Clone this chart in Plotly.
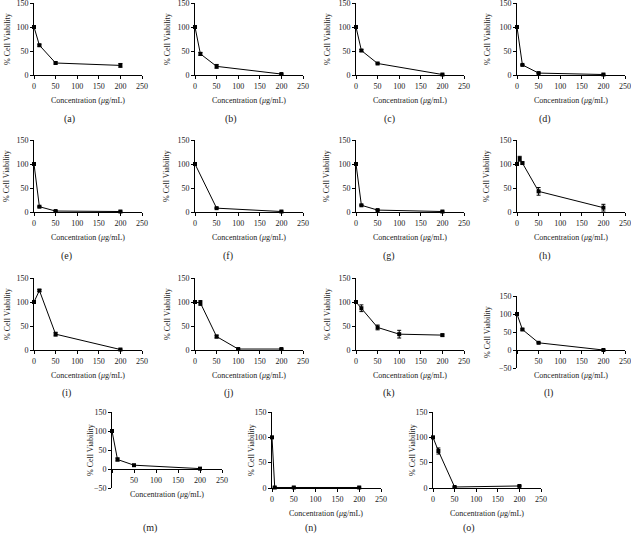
import plotly.graph_objects as go

W, H = 631, 539

# ---- data (concentration in ug/mL, % cell viability, error) ----
conc_a = [0, 12.5, 50, 200];       via_a = [100, 62, 25, 20];      err_a = [0, 2, 2, 4]
conc_b = [0, 12.5, 50, 200];       via_b = [100, 44, 18, 2];       err_b = [0, 3, 4, 1]
conc_c = [0, 12.5, 50, 200];       via_c = [100, 51, 24, 1];       err_c = [0, 2, 1, 1]
conc_d = [0, 12.5, 50, 200];       via_d = [100, 21, 4, 1];        err_d = [0, 1, 1, 1]
conc_e = [0, 12.5, 50, 200];       via_e = [100, 11, 2, 1];        err_e = [0, 1, 1, 1]
conc_f = [0, 50, 200];             via_f = [100, 8, 1];            err_f = [0, 1, 1]
conc_g = [0, 12.5, 50, 200];       via_g = [100, 14, 4, 1];        err_g = [0, 1, 1, 1]
conc_h = [0, 6.25, 12.5, 50, 200]; via_h = [100, 111, 102, 43, 9]; err_h = [0, 5, 2, 8, 7]
conc_i = [0, 12.5, 50, 200];       via_i = [100, 124, 33, 1];      err_i = [0, 2, 4, 1]
conc_j = [0, 12.5, 50, 100, 200];  via_j = [100, 98, 28, 2, 2];    err_j = [0, 5, 3, 1, 1]
conc_k = [0, 12.5, 50, 100, 200];  via_k = [100, 87, 47, 33, 31];  err_k = [0, 7, 5, 8, 2]
conc_l = [0, 12.5, 50, 200];       via_l = [100, 57, 20, 0];       err_l = [0, 2, 1, 1]
conc_m = [0, 12.5, 50, 200];       via_m = [100, 25, 10, 1];       err_m = [0, 4, 1, 1]
conc_n = [0, 6.25, 50, 200];       via_n = [100, 1, 1, 1];         err_n = [0, 1, 1, 1]
conc_o = [0, 12.5, 50, 200];       via_o = [100, 73, 2, 4];        err_o = [0, 6, 1, 1]

panel_labels = ["(a)", "(b)", "(c)", "(d)", "(e)", "(f)", "(g)", "(h)",
                "(i)", "(j)", "(k)", "(l)", "(m)", "(n)", "(o)"]
x_ticks = [0, 50, 100, 150, 200, 250]
y_ticks_pos = [0, 50, 100, 150]
y_ticks_neg = [-50, 0, 50, 100, 150]

series = [
    (conc_a, via_a, err_a), (conc_b, via_b, err_b), (conc_c, via_c, err_c), (conc_d, via_d, err_d),
    (conc_e, via_e, err_e), (conc_f, via_f, err_f), (conc_g, via_g, err_g), (conc_h, via_h, err_h),
    (conc_i, via_i, err_i), (conc_j, via_j, err_j), (conc_k, via_k, err_k), (conc_l, via_l, err_l),
    (conc_m, via_m, err_m), (conc_n, via_n, err_n), (conc_o, via_o, err_o),
]

# ---- layout boxes in pixels: x0, x1, y_top(px of range max), y_bottom(px of range min), neg range, ytitle offset
boxes = [
    (34, 142, 3, 75, False, 27), (195, 303, 3, 75, False, 28), (356, 464, 3, 75, False, 29), (517, 625, 3, 75, False, 30),
    (34, 142, 140, 212, False, 27), (195, 303, 140, 212, False, 28), (356, 464, 140, 212, False, 29), (517, 625, 140, 212, False, 30),
    (34, 142, 278, 350, False, 27), (195, 303, 278, 350, False, 28), (356, 464, 278, 350, False, 29), (517, 625, 296, 368, True, 30),
    (112, 222, 412, 488, True, 22), (272, 381, 412, 488, False, 21), (433, 541, 412, 488, False, 21),
]
label_pos = [
    (69, 119), (231, 119), (389, 119), (545, 119),
    (66, 256), (228, 256), (389, 256), (545, 256),
    (66, 393), (228, 393), (389, 393), (548, 393),
    (150, 528), (311, 528), (469, 528),
]

FONT = "Liberation Serif"
fig = go.Figure()
annotations = []

for i, ((xs, ys, es), (x0, x1, yt, yb, neg, toff), lab, (lx, ly)) in enumerate(
        zip(series, boxes, panel_labels, label_pos)):
    n = i + 1
    xa = "x" if n == 1 else f"x{n}"
    ya = "y" if n == 1 else f"y{n}"
    fig.add_trace(go.Scatter(
        x=xs, y=ys, xaxis=xa, yaxis=ya, mode="lines+markers",
        line=dict(color="black", width=1),
        marker=dict(symbol="square", size=4, color="black"),
        error_y=dict(type="data", array=es, visible=True, color="black", thickness=1, width=2),
        showlegend=False, cliponaxis=False,
    ))
    ymin, ymax = (-50, 150) if neg else (0, 150)
    ydom = [1 - yb / H, 1 - yt / H]
    xdom = [x0 / W, x1 / W]
    # pixel of y = 0
    y0px = yb - (0 - ymin) / (ymax - ymin) * (yb - yt)
    xaxis = dict(
        domain=xdom, range=[0, 250], tickvals=x_ticks,
        ticktext=[("" if (neg and v == 0) else str(v)) for v in x_ticks],
        showline=True, linecolor="black", linewidth=1, ticks="outside", ticklen=3,
        tickcolor="black", showgrid=False, zeroline=False, automargin=False,
        ticklabeloverflow="allow",
        tickfont=dict(family=FONT, size=8, color="#222"), fixedrange=True,
    )
    if neg:
        xaxis.update(anchor="free", position=1 - y0px / H)
    else:
        xaxis.update(anchor=ya)
    yaxis = dict(
        domain=ydom, range=[ymin, ymax], tickvals=(y_ticks_neg if neg else y_ticks_pos),
        showline=True, linecolor="black", linewidth=1, ticks="outside", ticklen=3,
        tickcolor="black", showgrid=False, zeroline=False, anchor=xa, automargin=False,
        ticklabeloverflow="allow",
        tickfont=dict(family=FONT, size=8, color="#222"), fixedrange=True,
    )
    key = "" if n == 1 else str(n)
    fig.update_layout(**{f"xaxis{key}": xaxis, f"yaxis{key}": yaxis})

    # axis titles
    annotations.append(dict(
        text="Concentration (<i>μ</i>g/mL)", x=(x0 + x1) / 2 / W, y=1 - (y0px + 25) / H,
        xref="paper", yref="paper", showarrow=False, xanchor="center", yanchor="middle",
        font=dict(family=FONT, size=8, color="#222")))
    annotations.append(dict(
        text="% Cell Viability", x=(x0 - toff) / W, y=1 - (yt + yb) / 2 / H,
        xref="paper", yref="paper", showarrow=False, xanchor="center", yanchor="middle",
        textangle=-90, font=dict(family=FONT, size=8, color="#222")))
    annotations.append(dict(
        text=lab, x=lx / W, y=1 - ly / H, xref="paper", yref="paper", showarrow=False,
        xanchor="center", yanchor="middle", font=dict(family=FONT, size=10, color="#222")))

fig.update_layout(
    width=W, height=H, margin=dict(l=0, r=0, t=0, b=0, pad=0, autoexpand=False),
    paper_bgcolor="white", plot_bgcolor="white",
    annotations=annotations, showlegend=False,
)

fig.write_html("out.html", config={"displayModeBar": False},
               post_script="document.body.style.margin='0px';document.body.style.overflow='hidden';")
